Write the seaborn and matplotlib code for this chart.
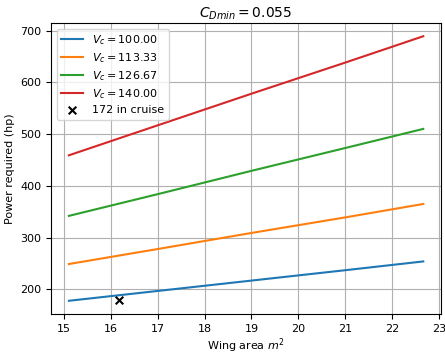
import numpy as np
import pandas as pd
import matplotlib
matplotlib.use("Agg")
import matplotlib.pyplot as plt
import seaborn as sns

# wing area (m^2) sample points
wing_area = [15.1, 17.0, 19.0, 21.0, 22.67]

# power required (hp) for each cruise speed
vc_labels = ["100.00", "113.33", "126.67", "140.00"]
p_100 = [178, 197, 217, 237, 254]
p_113 = [249, 278, 309, 339, 365]
p_127 = [342, 384, 429, 473, 510]
p_140 = [459, 517, 578, 638, 689]

# the real airplane in cruise
cruise_area = [16.17]
cruise_power = [180]

series = [p_100, p_113, p_127, p_140]
colors = sns.color_palette("tab10", 4)

fig, ax = plt.subplots(figsize=(4.45, 3.54), dpi=100)
fig.subplots_adjust(left=0.115, right=0.991, top=0.935, bottom=0.113)

for lab, vals, c in zip(vc_labels, series, colors):
    df = pd.DataFrame({"S": wing_area, "P": vals})
    sns.lineplot(data=df, x="S", y="P", ax=ax, color=c,
                 label=f"$V_c = {lab}$", linewidth=1.5)

ax.scatter(cruise_area, cruise_power, marker="x", color="black", s=30,
           label="172 in cruise", zorder=3)

ax.set_xticks(range(15, 24))
ax.set_yticks([200, 300, 400, 500, 600, 700])
ax.grid(True)
ax.set_title("$C_{Dmin} = 0.055$", fontsize=10, pad=4)
ax.set_xlabel("Wing area $m^2$", fontsize=8, labelpad=2)
ax.set_ylabel("Power required (hp)", fontsize=8)
ax.tick_params(labelsize=8)
ax.legend(loc="upper left", fontsize=8, labelspacing=0.38)

fig.savefig("out.png", dpi=100)
